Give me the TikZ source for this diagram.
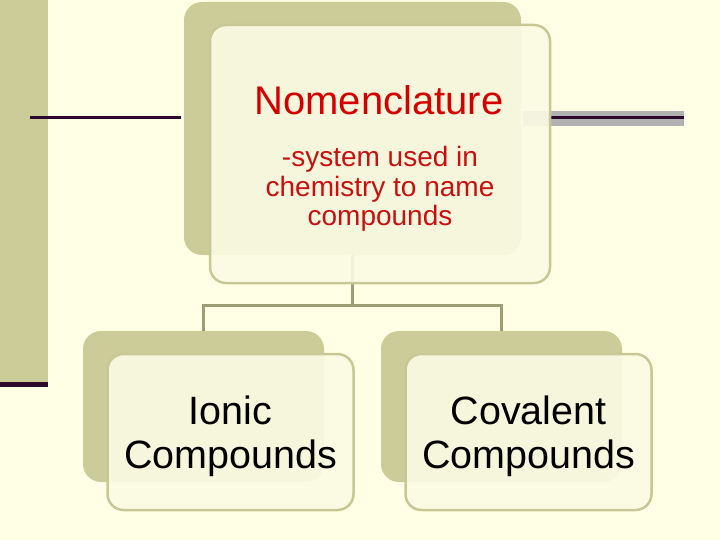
\documentclass[tikz,border=0pt]{standalone}
\usepackage{fontspec}
\setmainfont{Liberation Sans}
\usetikzlibrary{positioning,calc}
\definecolor{pagebg}{RGB}{255,255,229}
\definecolor{khaki}{RGB}{204,204,153}
\definecolor{cardedge}{RGB}{200,200,150}
\definecolor{cardfill}{RGB}{251,251,228}
\definecolor{linkcol}{RGB}{157,157,118}
\definecolor{rulecol}{RGB}{45,10,45}
\definecolor{bandgray}{RGB}{178,178,178}
\definecolor{titlered}{RGB}{212,0,0}
\definecolor{descred}{RGB}{200,16,16}
\tikzset{
    backcard/.style={fill=khaki, rounded corners=18pt, inner sep=0pt},
    frontcard/.style={draw=cardedge, line width=2.5pt, fill=cardfill, fill opacity=0.9, rounded corners=16pt, inner sep=0pt},
    cardtext/.style={align=center, text=black, inner sep=0pt, font=\fontsize{39.5}{44}\selectfont},
    link/.style={draw=linkcol, line width=3pt},
    rule/.style={draw=rulecol, line width=3pt},
    titletext/.style={text=titlered, inner sep=0pt, font=\fontsize{40}{44}\selectfont},
    desctext/.style={text=descred, inner sep=0pt, align=center, font=\fontsize{28}{29.5}\selectfont}
}

\begin{document}
\begin{tikzpicture}[x=1pt, y=-1pt]
    \fill[pagebg] (0,0) rectangle (720,540);
    \useasboundingbox (0,0) rectangle (720,540);
    % side decorations
    \fill[khaki] (0,0) rectangle (48,382);
    \draw[rule, line width=5pt] (0,384) -- (48,384);
    \draw[rule] (30,117.5) -- (181,117.5);
    \fill[bandgray] (523,111) rectangle (684,126.5);
    \draw[rule] (550,117.5) -- (684,117.5);
    % back cards
    \node[backcard, minimum width=337pt, minimum height=253pt] (nomback) at (352.5,128.5) {};
    \node[backcard, minimum width=241pt, minimum height=151pt] (ionicback) at (203.5,406.5) {};
    \node[backcard, minimum width=241pt, minimum height=151pt] (covback) at (501.5,406.5) {};
    % tree links
    \draw[link] (nomback.south) -- ++(0,50) coordinate (fork);
    \draw[link] (ionicback.north) |- (fork) -| (covback.north);
    % front cards
    \node[frontcard, minimum width=340pt, minimum height=258pt, xshift=27.5pt, yshift=-25.5pt] (nomfront) at (nomback) {};
    \node[frontcard, minimum width=246pt, minimum height=156pt, xshift=27pt, yshift=-25.5pt] (ionicfront) at (ionicback) {};
    \node[frontcard, minimum width=246pt, minimum height=156pt, xshift=27pt, yshift=-25.5pt] (covfront) at (covback) {};
    % card text
    \node[cardtext, yshift=-4pt] (ionictext) at (ionicfront) {Ionic\\Compounds};
    \node[cardtext, yshift=-4pt] (covtext) at (covfront) {Covalent\\Compounds};
    \node[titletext, anchor=base] (nomtitle) at (379,115) {Nomenclature};
    \node[desctext, anchor=north] (nomdesc) at (380,146.5) {-system used in\\chemistry to name\\compounds};
\end{tikzpicture}
\end{document}
